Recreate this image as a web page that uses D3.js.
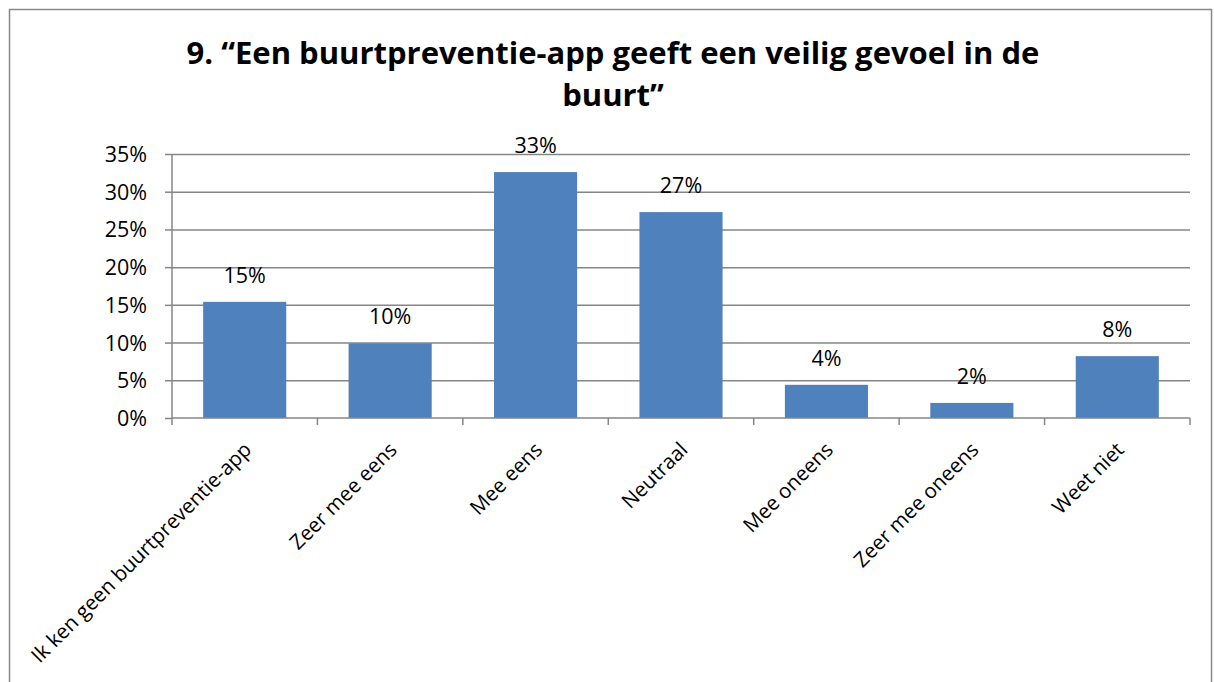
<!DOCTYPE html>
<html lang="nl">
<head>
<meta charset="utf-8">
<title>Buurtpreventie-app</title>
<script src="https://d3js.org/d3.v7.min.js"></script>
<style>
  body { margin: 0; background: #fff; }
  .title { font-family: "Open Sans", sans-serif; font-weight: bold; font-size: 31px; }
  .tick text, .lbl { font-family: "Open Sans", sans-serif; font-size: 21.5px; fill: #000; }
  .cat { font-family: "Open Sans", sans-serif; font-size: 20.5px; fill: #000; }
</style>
</head>
<body>
<div id="vis"></div>
<script>
const categories = ["Ik ken geen buurtpreventie-app", "Zeer mee eens", "Mee eens", "Neutraal",
                    "Mee oneens", "Zeer mee oneens", "Weet niet"];
const values = [0.154, 0.099, 0.326, 0.273, 0.044, 0.020, 0.082];
const yTicks = [0, 0.05, 0.10, 0.15, 0.20, 0.25, 0.30, 0.35];
const titleLines = ["9. \u201cEen buurtpreventie-app geeft een veilig gevoel in de", "buurt\u201d"];

const width = 1214, height = 682;
const margin = {top: 154, right: 24, bottom: 264, left: 172};

const svg = d3.select("#vis").append("svg")
  .attr("width", width).attr("height", height);

// outer frame
svg.append("rect")
  .attr("x", 9.5).attr("y", 9.5)
  .attr("width", width - 12).attr("height", height + 20)
  .attr("fill", "none").attr("stroke", "#888").attr("stroke-width", 1.5);

const x = d3.scaleBand()
  .domain(categories)
  .range([margin.left, width - margin.right])
  .paddingInner(0.4286).paddingOuter(0.2143);

const y = d3.scaleLinear()
  .domain([0, 0.35])
  .range([height - margin.bottom, margin.top]);

// gridlines
svg.append("g").selectAll("line")
  .data(yTicks.slice(1))
  .join("line")
  .attr("x1", margin.left).attr("x2", width - margin.right)
  .attr("y1", d => y(d) + 0.5).attr("y2", d => y(d) + 0.5)
  .attr("stroke", "#868686").attr("stroke-width", 1.5);

// y axis
const yAxis = svg.append("g")
  .attr("transform", `translate(${margin.left},0)`)
  .call(d3.axisLeft(y).tickValues(yTicks).tickFormat(d3.format(".0%")).tickSize(7).tickPadding(18));
yAxis.selectAll("line, path").attr("stroke", "#868686").attr("stroke-width", 1.5);
yAxis.select(".domain").attr("d", `M0,${y(0.35)}V${y(0)}`);
yAxis.selectAll(".tick text").attr("dy", "0.35em");

// bars
svg.append("g").selectAll("rect")
  .data(values)
  .join("rect")
  .attr("x", (d, i) => x(categories[i]))
  .attr("y", d => y(d))
  .attr("width", x.bandwidth())
  .attr("height", d => y(0) - y(d))
  .attr("fill", "#4F81BD");

// value labels
svg.append("g").selectAll("text")
  .data(values)
  .join("text")
  .attr("class", "lbl")
  .attr("x", (d, i) => x(categories[i]) + x.bandwidth() / 2)
  .attr("y", d => y(d) - 19)
  .attr("text-anchor", "middle")
  .text(d => d3.format(".0%")(d));

// x axis line + ticks at category boundaries
const step = x.step();
const xg = svg.append("g");
xg.append("line")
  .attr("x1", margin.left).attr("x2", width - margin.right)
  .attr("y1", y(0)).attr("y2", y(0))
  .attr("stroke", "#868686").attr("stroke-width", 1.5);
xg.selectAll(".xt")
  .data(d3.range(categories.length + 1))
  .join("line")
  .attr("x1", i => margin.left + i * step).attr("x2", i => margin.left + i * step)
  .attr("y1", y(0)).attr("y2", y(0) + 7)
  .attr("stroke", "#868686").attr("stroke-width", 1.5);

// rotated category labels
xg.selectAll("text")
  .data(categories)
  .join("text")
  .attr("class", "cat")
  .attr("text-anchor", "end")
  .attr("transform", d => `translate(${x(d) + x.bandwidth() / 2 + 8},${y(0) + 33}) rotate(-45)`)
  .text(d => d);

// title
svg.append("g").selectAll("text")
  .data(titleLines)
  .join("text")
  .attr("class", "title")
  .attr("x", 613)
  .attr("y", (d, i) => 64 + i * 42)
  .attr("text-anchor", "middle")
  .text(d => d);
</script>
</body>
</html>
